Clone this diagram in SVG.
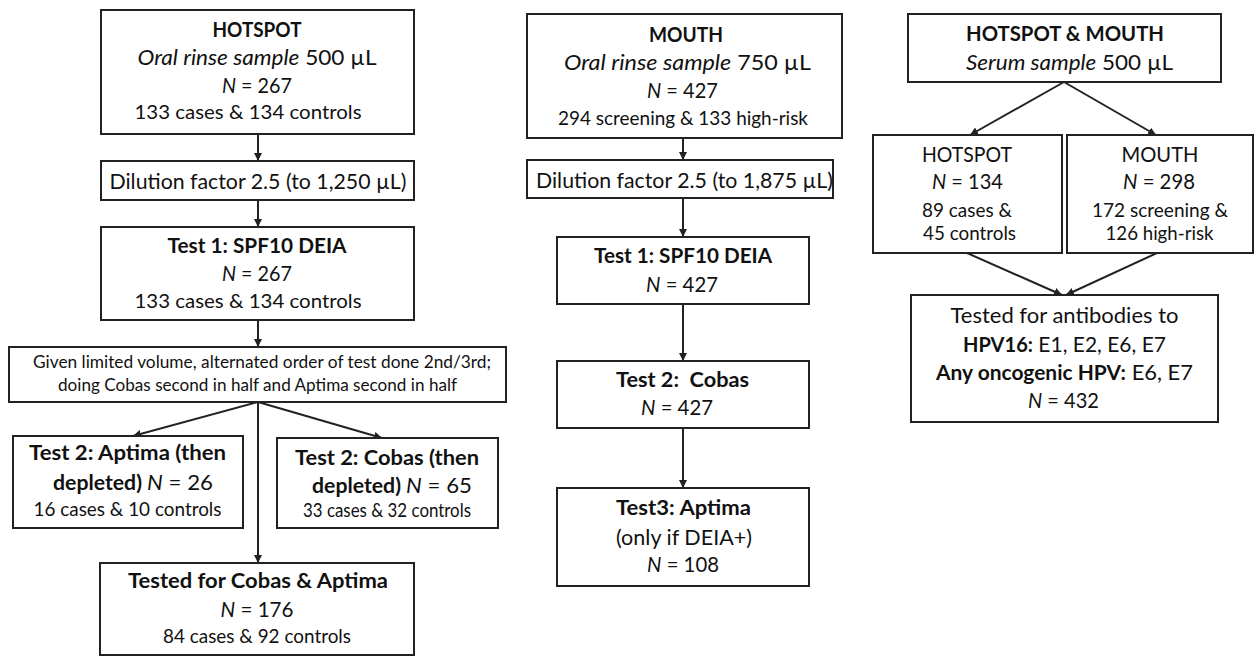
<svg xmlns="http://www.w3.org/2000/svg" width="1256" height="656" viewBox="0 0 1256 656">
<style>
text{font-family:Lato,"Open Sans","Liberation Sans",sans-serif;font-size:22px;fill:#111;text-anchor:middle}
.b{font-weight:bold;font-size:21px}
.i{font-style:italic}
.s{font-size:20px}
.xs{font-size:17px}
.box{fill:#fff;stroke:#222;stroke-width:2}
.con line{stroke:#222;stroke-width:2;marker-end:url(#ah)}
</style>
<defs>
<marker id="ah" markerUnits="userSpaceOnUse" markerWidth="9" markerHeight="9" refX="8" refY="4" orient="auto">
<path d="M0,0 L8,4 L0,8 z" fill="#222"/>
</marker>
</defs>
<rect width="1256" height="656" fill="#fff"/>
<g class="con" id="connectors">
<line x1="258" y1="134" x2="258" y2="161"/>
<line x1="258" y1="200" x2="258" y2="227"/>
<line x1="258" y1="320" x2="258" y2="347"/>
<line x1="258" y1="402" x2="133" y2="436"/>
<line x1="258" y1="402" x2="382" y2="438"/>
<line x1="258" y1="402" x2="258" y2="563"/>
<line x1="683" y1="138" x2="683" y2="160"/>
<line x1="683" y1="198" x2="683" y2="237"/>
<line x1="683" y1="304" x2="683" y2="361"/>
<line x1="683" y1="428" x2="683" y2="488"/>
<line x1="1064" y1="82" x2="970" y2="135"/>
<line x1="1064" y1="82" x2="1156" y2="135"/>
<line x1="967" y1="253" x2="1062" y2="295"/>
<line x1="1157" y1="253" x2="1066" y2="295"/>
</g>
<g id="hotspot">
<rect class="box" x="101" y="10" width="313" height="124"/>
<text x="257" y="37" class="b" textLength="89" lengthAdjust="spacingAndGlyphs">HOTSPOT</text>
<text x="257" y="65" textLength="239" lengthAdjust="spacingAndGlyphs"><tspan class="i">Oral rinse sample</tspan> 500 µL</text>
<text x="257" y="93" textLength="70" lengthAdjust="spacingAndGlyphs"><tspan class="i">N</tspan> = 267</text>
<text x="248" y="119" class="s" textLength="227" lengthAdjust="spacingAndGlyphs">133 cases &amp; 134 controls</text>
</g>
<g id="hotspot-dilution">
<rect class="box" x="101" y="161" width="313" height="39"/>
<text x="258" y="189" textLength="297" lengthAdjust="spacingAndGlyphs">Dilution factor 2.5 (to 1,250 µL)</text>
</g>
<g id="hotspot-test1">
<rect class="box" x="101" y="227" width="313" height="93"/>
<text x="257" y="253" class="b" textLength="179" lengthAdjust="spacingAndGlyphs">Test 1: SPF10 DEIA</text>
<text x="257" y="281" textLength="70" lengthAdjust="spacingAndGlyphs"><tspan class="i">N</tspan> = 267</text>
<text x="248" y="308" class="s" textLength="227" lengthAdjust="spacingAndGlyphs">133 cases &amp; 134 controls</text>
</g>
<g id="hotspot-order">
<rect class="box" x="9" y="347" width="497" height="55"/>
<text x="262" y="368" class="xs" textLength="458" lengthAdjust="spacingAndGlyphs">Given limited volume, alternated order of test done 2nd/3rd;</text>
<text x="257.5" y="391" class="xs" textLength="399" lengthAdjust="spacingAndGlyphs">doing Cobas second in half and Aptima second in half</text>
</g>
<g id="hotspot-aptima">
<rect class="box" x="13" y="436" width="230" height="92"/>
<text x="127.5" y="460" class="b" textLength="197" lengthAdjust="spacingAndGlyphs">Test 2: Aptima (then</text>
<text x="133" y="490" textLength="160" lengthAdjust="spacingAndGlyphs"><tspan class="b">depleted) </tspan><tspan class="i">N</tspan> = 26</text>
<text x="127.5" y="516" class="s" textLength="188" lengthAdjust="spacingAndGlyphs">16 cases &amp; 10 controls</text>
</g>
<g id="hotspot-cobas">
<rect class="box" x="277" y="438" width="221" height="90"/>
<text x="387" y="465" class="b" textLength="184" lengthAdjust="spacingAndGlyphs">Test 2: Cobas (then</text>
<text x="392" y="493" textLength="160" lengthAdjust="spacingAndGlyphs"><tspan class="b">depleted) </tspan><tspan class="i">N</tspan> = 65</text>
<text x="387" y="517" style="font-size:18.5px" textLength="168" lengthAdjust="spacingAndGlyphs">33 cases &amp; 32 controls</text>
</g>
<g id="hotspot-both">
<rect class="box" x="100" y="563" width="314" height="92"/>
<text x="258" y="588" class="b" textLength="260" lengthAdjust="spacingAndGlyphs">Tested for Cobas &amp; Aptima</text>
<text x="257" y="617" textLength="73" lengthAdjust="spacingAndGlyphs"><tspan class="i">N</tspan> = 176</text>
<text x="257" y="643" class="s" textLength="188" lengthAdjust="spacingAndGlyphs">84 cases &amp; 92 controls</text>
</g>
<g id="mouth">
<rect class="box" x="527" y="14" width="315" height="124"/>
<text x="686" y="42" class="b" textLength="74" lengthAdjust="spacingAndGlyphs">MOUTH</text>
<text x="687.5" y="70" textLength="247" lengthAdjust="spacingAndGlyphs"><tspan class="i">Oral rinse sample</tspan> 750 µL</text>
<text x="682.5" y="98" textLength="71" lengthAdjust="spacingAndGlyphs"><tspan class="i">N</tspan> = 427</text>
<text x="683" y="125" class="s" textLength="250" lengthAdjust="spacingAndGlyphs">294 screening &amp; 133 high-risk</text>
</g>
<g id="mouth-dilution">
<rect class="box" x="527" y="160" width="306" height="38"/>
<text x="684.5" y="188" textLength="297" lengthAdjust="spacingAndGlyphs">Dilution factor 2.5 (to 1,875 µL)</text>
</g>
<g id="mouth-test1">
<rect class="box" x="557" y="237" width="252" height="67"/>
<text x="683" y="263" class="b" textLength="178" lengthAdjust="spacingAndGlyphs">Test 1: SPF10 DEIA</text>
<text x="682" y="292" textLength="72" lengthAdjust="spacingAndGlyphs"><tspan class="i">N</tspan> = 427</text>
</g>
<g id="mouth-test2">
<rect class="box" x="557" y="361" width="252" height="67"/>
<text x="682.5" y="387" class="b" xml:space="preserve" textLength="133" lengthAdjust="spacingAndGlyphs">Test 2:  Cobas</text>
<text x="677" y="415" textLength="72" lengthAdjust="spacingAndGlyphs"><tspan class="i">N</tspan> = 427</text>
</g>
<g id="mouth-test3">
<rect class="box" x="557" y="488" width="252" height="98"/>
<text x="683.5" y="515" class="b" textLength="135" lengthAdjust="spacingAndGlyphs">Test3: Aptima</text>
<text x="684" y="545" textLength="136" lengthAdjust="spacingAndGlyphs">(only if DEIA+)</text>
<text x="683" y="572" textLength="72" lengthAdjust="spacingAndGlyphs"><tspan class="i">N</tspan> = 108</text>
</g>
<g id="serum">
<rect class="box" x="908" y="14" width="313" height="68"/>
<text x="1065" y="41" class="b" textLength="198" lengthAdjust="spacingAndGlyphs">HOTSPOT &amp; MOUTH</text>
<text x="1069.5" y="70" textLength="207" lengthAdjust="spacingAndGlyphs"><tspan class="i">Serum sample</tspan> 500 µL</text>
</g>
<g id="serum-hotspot">
<rect class="box" x="873" y="135" width="189" height="118"/>
<text x="967" y="162" textLength="90" lengthAdjust="spacingAndGlyphs">HOTSPOT</text>
<text x="967.5" y="189" textLength="71" lengthAdjust="spacingAndGlyphs"><tspan class="i">N</tspan> = 134</text>
<text x="967" y="217" class="s" textLength="90" lengthAdjust="spacingAndGlyphs">89 cases &amp;</text>
<text x="969.5" y="240" class="s" textLength="93" lengthAdjust="spacingAndGlyphs">45 controls</text>
</g>
<g id="serum-mouth">
<rect class="box" x="1067" y="135" width="186" height="118"/>
<text x="1160" y="162" textLength="77" lengthAdjust="spacingAndGlyphs">MOUTH</text>
<text x="1159" y="189" textLength="72" lengthAdjust="spacingAndGlyphs"><tspan class="i">N</tspan> = 298</text>
<text x="1160" y="217" class="s" textLength="136" lengthAdjust="spacingAndGlyphs">172 screening &amp;</text>
<text x="1159.5" y="240" class="s" textLength="108" lengthAdjust="spacingAndGlyphs">126 high-risk</text>
</g>
<g id="serum-antibodies">
<rect class="box" x="911" y="295" width="307" height="127"/>
<text x="1064.5" y="323" textLength="228" lengthAdjust="spacingAndGlyphs">Tested for antibodies to</text>
<text x="1064.5" y="352" textLength="203" lengthAdjust="spacingAndGlyphs"><tspan class="b">HPV16:</tspan> E1, E2, E6, E7</text>
<text x="1064.5" y="380" textLength="257" lengthAdjust="spacingAndGlyphs"><tspan class="b">Any oncogenic HPV:</tspan> E6, E7</text>
<text x="1063.5" y="408" textLength="71" lengthAdjust="spacingAndGlyphs"><tspan class="i">N</tspan> = 432</text>
</g>
</svg>
